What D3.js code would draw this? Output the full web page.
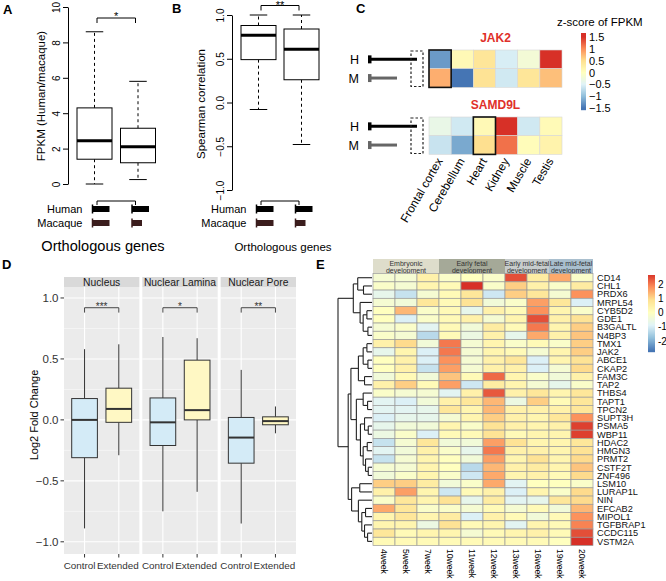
<!DOCTYPE html>
<html><head><meta charset="utf-8">
<script src="https://cdn.jsdelivr.net/npm/d3@7"></script>
<style>body{margin:0;background:#fff}svg text{font-family:"Liberation Sans",Arial,sans-serif}</style>
</head><body><svg id="c" width="666" height="581"></svg>
<script>
// ---------------- DATA ----------------
// Panel A: FPKM ratio boxplots [low whisker, Q1, median, Q3, high whisker]
const aGenes = ["g1", "g2"];
const aStats = [[0, 1.4, 2.45, 4.3, 8.6], [0.25, 1.2, 2.1, 3.15, 5.8]];
const aTicks = [0, 2, 4, 6, 8, 10];
const aSig = "*";
// Panel B: Spearman correlation boxplots
const bStats = [[-0.08, 0.49, 0.77, 0.88, 1.0], [-0.48, 0.26, 0.61, 0.84, 1.0]];
const bTicks = [-1, -0.5, 0, 0.5, 1];
const bSig = "**";
// gene models under A/B (relative lengths)
const species = ["Human", "Macaque"];
const humanLen = [17, 17];
const macaqueLen = [17, 10];

// Panel C
const tissues = ["Frontal cortex", "Cerebellum", "Heart", "Kidney", "Muscle", "Testis"];
const cGenes = ["JAK2", "SAMD9L"];
const cRows = ["H", "M"];
const jak2Z = [[-1.25, 0.1, 0.4, -0.55, -0.2, 1.5], [0.8, -1.5, 0.45, -0.6, 0.4, 0.7]];
const samd9lZ = [[-0.35, -0.6, 0.1, 1.5, -0.6, 0.08], [-0.65, -1.15, 0.5, 1.15, 0.05, 0.2]];
const cHighlight = [0, 2];
const cLegendTicks = [1.5, 1, 0.5, 0, -0.5, -1, -1.5];

// Panel D
const dFacets = ["Nucleus", "Nuclear Lamina", "Nuclear Pore"];
const dGroups = ["Control", "Extended"];
const dStats = [
  [[-0.89, -0.31, 0.0, 0.175, 0.58], [-0.29, -0.02, 0.09, 0.26, 0.62]],
  [[-0.75, -0.21, -0.02, 0.18, 0.68], [-0.59, 0.0, 0.08, 0.49, 0.67]],
  [[-0.85, -0.355, -0.145, 0.02, 0.41], [-0.11, -0.04, -0.01, 0.025, 0.11]]
];
const dSig = ["***", "*", "**"];
const dTicks = [-1, -0.5, 0, 0.5, 1];

// Panel E
const weeks = ["4week","5week","7week","10week","11week","12week","13week","16week","19week","20week"];
const stages = ["Embryonic|development","Early fetal|development","Early mid-fetal|development","Late mid-fetal|development"];
const stageWeeks = [["4week","7week"],["10week","12week"],["13week","16week"],["19week","20week"]];
const stageColors = ["#deddcb","#a5a998","#c7cccc","#a9bfce"];
const eGenes = ["CD14","CHL1","PRDX6","MRPL54","CYB5D2","GDE1","B3GALTL","N4BP3","TMX1","JAK2","ABCE1","CKAP2","FAM3C","TAP2","THBS4","TAPT1","TPCN2","SUPT3H","PSMA5","WBP11","HDAC2","HMGN3","PRMT2","CSTF2T","ZNF496","LSM10","LURAP1L","NIN","EFCAB2","MIPOL1","TGFBRAP1","CCDC115","VSTM2A"];
const eValues = [
  [-0.3,-0.3,0.4,-0.15,0,-0.15,2.4,0.55,1.5,-0.15],
  [-0.15,-0.3,0.3,0.15,2.7,-0.15,1.1,0.4,-0.15,0.55],
  [-0.7,-1.2,-0.3,0.15,0.7,-1.1,1.1,0.7,-0.3,1.75],
  [-0.3,-0.4,0.7,0.15,0.8,-0.4,-0.15,1.6,0.7,-0.95],
  [0,1.35,-0.15,0.15,-0.7,0.4,0.15,1.75,0.3,-0.15],
  [0,-0.95,-0.15,0.15,0.4,-0.3,0.3,2.4,0.4,0.8],
  [-0.3,-0.15,-0.8,0.15,-0.4,0.55,0.15,2.0,0.3,1.1],
  [-0.15,-0.3,-1.35,0.15,-0.55,0.4,-0.7,1.5,0.4,1.2],
  [0.4,0.95,-0.4,2.0,-0.3,0.3,-0.15,0.15,-0.15,1.1],
  [-0.7,0.3,-0.95,2.0,-0.3,0.3,0.15,-0.3,0.3,1.1],
  [0,0.4,-0.95,1.75,-0.3,0.4,0.7,-0.95,0.3,0.8],
  [0,0.4,-1.2,1.6,-0.3,0.4,0.4,-0.95,-0.3,0.95],
  [-0.4,0.15,-0.4,1.2,0.15,2.15,0.3,-0.15,-0.4,0.4],
  [0.4,1.1,0.15,1.6,-1.1,0.55,0.3,-0.3,-0.7,-0.15],
  [-0.15,-0.3,-0.3,-0.8,0.4,2.3,0.4,0.7,0.3,0.7],
  [-0.8,-0.95,-0.4,0.4,0.7,1.35,-0.55,1.1,0.15,0.7],
  [-0.8,-0.8,-0.7,0.7,0.3,1.35,0.4,0.4,0.4,0.7],
  [-0.95,-0.7,-0.7,-0.3,0.3,1.1,0.4,0.3,0.7,1.75],
  [-0.7,-0.4,-0.4,0.3,-0.15,0.8,0.4,0.3,0.4,2.55],
  [-0.55,-0.15,-0.95,0.15,0.15,0.8,0.15,0.3,0.3,2.55],
  [-1.2,-0.3,0.7,-0.4,-0.4,1.6,0.8,0.3,0.3,0.7],
  [-0.8,-0.4,0.4,-0.15,-0.7,2.0,0.4,0.4,0.3,0.8],
  [-1.2,-0.3,0.3,0,-0.4,1.6,0.3,0.8,0.3,0.95],
  [-0.3,-0.3,0.3,0,-1.35,1.35,0.4,0.55,0.3,1.2],
  [-0.4,-0.15,0.3,-0.15,-1.1,1.5,0.3,0.4,0.15,0.95],
  [1.1,1.1,0.55,-0.4,-0.15,1.5,-0.8,0,0,-0.15],
  [0.4,1.6,0.3,-1.1,0.15,0.4,-0.95,0.3,-0.15,0.95],
  [-0.15,0.7,0.3,0.8,-0.7,0.55,-0.8,-0.7,0.7,0.95],
  [1.5,0.7,-0.15,-0.15,-0.3,0.15,-0.3,0.15,-0.4,1.35],
  [0.3,0.7,0.3,0.55,-0.95,0.4,0.15,-0.4,0.15,1.75],
  [0.3,0.3,-0.55,0.8,0.15,0.3,-0.8,0.3,0.15,1.9],
  [0.7,0.15,0.3,0.3,-0.3,0.15,0.3,0.4,0.15,2.4],
  [0.15,0.15,0.15,0.15,0.15,0.15,0.15,0.15,0,3.0]
];
const eLegendTicks = [2, 1, 0, -1, -2];
// row dendrogram (merge heights)
const dendro = {h:10, c:[
  {h:5.5, c:[
    {h:4.2, c:["CD14", {h:2.5, c:["CHL1","PRDX6"]}]},
    {h:3.5, c:["MRPL54", {h:2.6, c:[{h:1.5, c:["CYB5D2","GDE1"]}, {h:1.2, c:["B3GALTL","N4BP3"]}]}]}
  ]},
  {h:7, c:[
    {h:6.2, c:[
      {h:4, c:[{h:2.6, c:[{h:1.5, c:["TMX1","JAK2"]}, {h:1.2, c:["ABCE1","CKAP2"]}]}, {h:2.2, c:["FAM3C","TAP2"]}]},
      {h:4.6, c:[
        {h:2.6, c:["THBS4", {h:1.3, c:["TAPT1","TPCN2"]}]},
        {h:3.4, c:[
          {h:2.2, c:["SUPT3H", {h:1.1, c:["PSMA5","WBP11"]}]},
          {h:2.6, c:[{h:1.4, c:["HDAC2","HMGN3"]}, {h:1.9, c:["PRMT2", {h:1.1, c:["CSTF2T","ZNF496"]}]}]}
        ]}
      ]}
    ]},
    {h:6, c:[
      {h:3.6, c:["LSM10","LURAP1L"]},
      {h:4, c:["NIN", {h:3, c:[{h:1.9, c:["EFCAB2","MIPOL1"]}, {h:2.2, c:["TGFBRAP1", {h:1.3, c:["CCDC115","VSTM2A"]}]}]}]}
    ]}
  ]}
]};

// ---------------- DRAWING ----------------
const svg = d3.select("#c");
svg.append("rect").attr("width", 666).attr("height", 581).attr("fill", "#fff");
const rdylbu7 = ["#4575B4","#91BFDB","#E0F3F8","#FFFFBF","#FEE090","#FC8D59","#D73027"];

function txt(g, x, y, s, o = {}) {
  const t = g.append("text").attr("x", x).attr("y", y).text(s)
    .attr("font-size", o.size || 11).attr("fill", o.fill || "#000")
    .attr("text-anchor", o.anchor || "start");
  if (o.weight) t.attr("font-weight", o.weight);
  if (o.transform) t.attr("transform", o.transform);
  return t;
}
function line(g, x1, y1, x2, y2, o = {}) {
  const l = g.append("line").attr("x1", x1).attr("y1", y1).attr("x2", x2).attr("y2", y2)
    .attr("stroke", o.stroke || "#000").attr("stroke-width", o.w || 1);
  if (o.dash) l.attr("stroke-dasharray", o.dash);
  return l;
}

// panel labels
txt(svg, 3, 14, "A", {size: 13, weight: "bold"});
txt(svg, 172, 13, "B", {size: 13, weight: "bold"});
txt(svg, 356, 13, "C", {size: 13, weight: "bold"});
txt(svg, 2, 269, "D", {size: 13, weight: "bold"});
txt(svg, 316, 269, "E", {size: 13, weight: "bold"});

// ---- R-style boxplot panels (A, B) ----
function rPanel(opt) {
  const g = svg.append("g");
  const y = d3.scaleLinear(opt.domain, opt.range);
  const x = d3.scalePoint(aGenes, opt.xr);
  const ax = g.append("g").attr("transform", `translate(${opt.axisX},0)`)
    .call(d3.axisLeft(y).tickValues(opt.ticks).tickSize(5).tickSizeOuter(0).tickFormat(opt.fmt));
  ax.attr("font-family", null);
  ax.select(".domain").attr("stroke", "#000");
  ax.selectAll(".tick line").attr("stroke", "#000");
  ax.selectAll(".tick text").attr("x", null).attr("dy", null).attr("fill", "#000")
    .attr("font-size", 10).attr("text-anchor", "middle")
    .attr("transform", "translate(-8,0) rotate(-90)");
  txt(g, 0, 0, opt.ylabel, {size: 11.5, anchor: "middle", transform: `translate(${opt.ylabX},${opt.ylabY}) rotate(-90)`});
  const bw = 35;
  opt.stats.forEach((s, i) => {
    const cx = x(aGenes[i]);
    line(g, cx, y(s[3]), cx, y(s[4]), {dash: "3,3"});
    line(g, cx, y(s[1]), cx, y(s[0]), {dash: "3,3"});
    line(g, cx - bw / 4, y(s[4]), cx + bw / 4, y(s[4]));
    line(g, cx - bw / 4, y(s[0]), cx + bw / 4, y(s[0]));
    g.append("rect").attr("x", cx - bw / 2).attr("y", y(s[3])).attr("width", bw)
      .attr("height", y(s[1]) - y(s[3])).attr("fill", "#fff").attr("stroke", "#000");
    line(g, cx - bw / 2, y(s[2]), cx + bw / 2, y(s[2]), {w: 3});
  });
  // significance bracket
  const x1 = x(aGenes[0]) + 2.5, x2 = x(aGenes[1]) - 2.5;
  g.append("path").attr("d", `M${x1},${opt.sigY + 5}V${opt.sigY}H${x2}V${opt.sigY + 5}`)
    .attr("fill", "none").attr("stroke", "#000");
  txt(g, (x1 + x2) / 2, opt.sigY + opt.sigDy, opt.sig, {size: 11, anchor: "middle"});
  // gene model bracket
  g.append("path").attr("d", `M${x1},205V201H${x2}V205`).attr("fill", "none").attr("stroke", "#000");
  const starts = [x(aGenes[0]) - 2, x(aGenes[1]) - 6];
  species.forEach((sp, j) => {
    const yy = 209 + j * 14;
    txt(g, starts[0] - 10, yy + 4, sp, {size: 11, anchor: "end"});
    const lens = j === 0 ? humanLen : macaqueLen;
    const col = j === 0 ? "#000" : "#3b1d1d";
    starts.forEach((sx, i) => {
      line(g, sx, yy - 4.5, sx, yy + 4.5, {stroke: col, w: 1.5});
      g.append("rect").attr("x", sx).attr("y", yy - 3).attr("width", lens[i]).attr("height", 6).attr("fill", col);
    });
  });
  txt(g, opt.orthoX, 251, "Orthologous genes", {size: opt.orthoSize, anchor: "middle"});
}
rPanel({domain: [0, 10], range: [184, 7], xr: [94.5, 138], axisX: 68, ticks: aTicks,
  fmt: d3.format("d"), stats: aStats, ylabel: "FPKM (Human/macaque)", ylabX: 45, ylabY: 96,
  sig: aSig, sigY: 18, sigDy: 1.5, orthoX: 103, orthoSize: 14.6});
rPanel({domain: [-1, 1], range: [190, 15], xr: [258.5, 301.5], axisX: 232, ticks: bTicks,
  fmt: d3.format(".1f"), stats: bStats, ylabel: "Spearman correlation", ylabX: 205, ylabY: 104,
  sig: bSig, sigY: 5.5, sigDy: 3, orthoX: 283, orthoSize: 11.5});

// ---- Panel C ----
(function () {
  const g = svg.append("g");
  const color = d3.scaleLinear().domain([-1.5, -1, -0.5, 0, 0.5, 1, 1.5]).range(rdylbu7).clamp(true);
  const x = d3.scaleBand(tissues, [429, 562]);
  const tops = [50, 117];
  const yr = d3.scaleBand(cRows, [0, 37.4]);
  [jak2Z, samd9lZ].forEach((mat, k) => {
    const y0 = tops[k];
    txt(g, (429 + 562) / 2, y0 - 8, cGenes[k], {size: 12, weight: "bold", anchor: "middle", fill: "#e0302a"});
    mat.forEach((row, r) => row.forEach((v, c) => {
      g.append("rect").attr("x", x(tissues[c])).attr("y", y0 + yr(cRows[r]))
        .attr("width", x.bandwidth()).attr("height", yr.bandwidth())
        .attr("fill", color(v)).attr("stroke", "#d8d8d8").attr("stroke-width", 0.6);
    }));
    const hc = cHighlight[k];
    g.append("rect").attr("x", x(tissues[hc])).attr("y", y0).attr("width", x.bandwidth())
      .attr("height", 37.4).attr("fill", "none").attr("stroke", "#111").attr("stroke-width", 1.6);
    // gene models
    cRows.forEach((r, j) => {
      const yy = y0 + yr(r) + yr.bandwidth() / 2;
      txt(g, 359, yy + 4.5, r, {size: 12.5, anchor: "end"});
      const col = j === 0 ? "#000" : "#666";
      const end = j === 0 ? 417 : 397;
      g.append("rect").attr("x", 368).attr("y", yy - 4).attr("width", 3.5).attr("height", 8).attr("fill", col);
      line(g, 370, yy, end, yy, {stroke: col, w: 3});
    });
    g.append("rect").attr("x", 411).attr("y", y0 + 1).attr("width", 12).attr("height", 35.5)
      .attr("fill", "none").attr("stroke", "#222").attr("stroke-width", 1.2).attr("stroke-dasharray", "2.5,2");
  });
  tissues.forEach(t => {
    const cx = x(t) + x.bandwidth() / 2 + 3;
    txt(g, 0, 0, t, {size: 11.8, anchor: "end", transform: `translate(${cx},161) rotate(-60)`});
  });
  // legend
  txt(g, 557, 26, "z-score of FPKM", {size: 11.5});
  const ly = d3.scaleLinear([-1.5, 1.5], [108, 37]);
  for (let yy = 33; yy < 110; yy++) {
    g.append("rect").attr("x", 581).attr("y", yy).attr("width", 5).attr("height", 1.2)
      .attr("fill", color(ly.invert(yy + 0.5)));
  }
  cLegendTicks.forEach(v => {
    txt(g, 589, ly(v) + 4, (v < 0 ? "\u2212" : "") + Math.abs(v), {size: 11});
  });
})();

// ---- Panel D (ggplot facets) ----
(function () {
  const g = svg.append("g");
  const fx = d3.scaleBand(dFacets, [64, 296]).paddingInner(0.038);
  const bw = fx.bandwidth();
  const xin = d3.scalePoint(dGroups, [0, bw]).padding(0.6);
  const step = xin.step();
  const y = d3.scaleLinear([-1.1, 1.09], [554, 287]);
  const fills = ["#d4ebf7", "#fff8c4"];
  const labShift = [-5, -1];
  dFacets.forEach((f, k) => {
    const x0 = fx(f);
    const p = g.append("g").attr("transform", `translate(${x0},0)`);
    p.append("rect").attr("x", 0).attr("y", 287).attr("width", bw).attr("height", 267).attr("fill", "#ebebeb");
    [-0.75, -0.25, 0.25, 0.75].forEach(v => line(p, 0, y(v), bw, y(v), {stroke: "#fff", w: 0.5}));
    dTicks.forEach(v => line(p, 0, y(v), bw, y(v), {stroke: "#fff", w: 1.1}));
    dGroups.forEach(gr => line(p, xin(gr), 287, xin(gr), 554, {stroke: "#fff", w: 1.1}));
    // strip
    p.append("rect").attr("x", 0).attr("y", 277).attr("width", bw).attr("height", 10).attr("fill", "#d9d9d9");
    txt(p, bw / 2, 285.5, f, {size: 10.3, anchor: "middle", fill: "#1a1a1a"});
    // boxes
    dStats[k].forEach((s, i) => {
      const cx = xin(dGroups[i]), w = step * 0.75;
      line(p, cx, y(s[3]), cx, y(s[4]), {stroke: "#333", w: 1});
      line(p, cx, y(s[1]), cx, y(s[0]), {stroke: "#333", w: 1});
      p.append("rect").attr("x", cx - w / 2).attr("y", y(s[3])).attr("width", w)
        .attr("height", y(s[1]) - y(s[3])).attr("fill", fills[i]).attr("stroke", "#333").attr("stroke-width", 1);
      line(p, cx - w / 2, y(s[2]), cx + w / 2, y(s[2]), {stroke: "#333", w: 2});
      line(p, cx, 554, cx, 557.5, {stroke: "#333", w: 1});
      txt(p, cx + labShift[i], 568.5, dGroups[i], {size: 9.9, anchor: "middle", fill: "#333"});
    });
    const a = xin(dGroups[0]), b = xin(dGroups[1]);
    p.append("path").attr("d", `M${a},${y(0.88)}V${y(0.92)}H${b}V${y(0.88)}`)
      .attr("fill", "none").attr("stroke", "#333").attr("stroke-width", 0.9);
    txt(p, (a + b) / 2, y(0.92) + 2.5, dSig[k], {size: 10, anchor: "middle", fill: "#333"});
  });
  dTicks.forEach(v => {
    line(g, 60.5, y(v), 64, y(v), {stroke: "#333"});
    txt(g, 58.5, y(v) + 4, d3.format(".1f")(v), {size: 11.5, anchor: "end", fill: "#333"});
  });
  txt(g, 0, 0, "Log2 Fold Change", {size: 11, anchor: "middle", transform: "translate(38,415) rotate(-90)"});
})();

// ---- Panel E (heatmap) ----
(function () {
  const g = svg.append("g");
  const color = d3.scaleLinear().domain([-2.7, -1.8, -0.9, 0, 0.9, 1.8, 2.7]).range(rdylbu7).clamp(true);
  const x = d3.scaleBand(weeks, [373, 593]);
  const y = d3.scaleBand(eGenes, [273.6, 545.5]);
  // header annotation
  stages.forEach((s, i) => {
    const xa = x(stageWeeks[i][0]), xb = x(stageWeeks[i][1]) + x.bandwidth();
    g.append("rect").attr("x", xa).attr("y", 259).attr("width", xb - xa).attr("height", 14.6).attr("fill", stageColors[i]);
    const [l1, l2] = s.split("|");
    txt(g, 0, 0, l1, {size: 7.8, anchor: "middle", fill: "#333", transform: `translate(${(xa + xb) / 2},265.8) scale(0.9,1)`});
    txt(g, 0, 0, l2, {size: 7.8, anchor: "middle", fill: "#333", transform: `translate(${(xa + xb) / 2},273) scale(0.9,1)`});
  });
  eValues.forEach((row, r) => row.forEach((v, c) => {
    g.append("rect").attr("x", x(weeks[c])).attr("y", y(eGenes[r]))
      .attr("width", x.bandwidth()).attr("height", y.bandwidth())
      .attr("fill", color(v)).attr("stroke", "#9a9a9a").attr("stroke-width", 0.7);
  }));
  eGenes.forEach(gn => txt(g, 597, y(gn) + y.bandwidth() / 2 + 3.3, gn, {size: 9.2, fill: "#111"}));
  weeks.forEach(w => txt(g, 0, 0, w, {size: 8.6, transform: `translate(${x(w) + x.bandwidth() / 2 - 3},549) rotate(90)`}));
  // dendrogram
  const root = d3.hierarchy(dendro, d => (typeof d === "string" ? null : d.c));
  const hx = d3.scaleLinear([0, 10], [372, 338]);
  root.eachAfter(n => {
    if (!n.children) { n.py = y(n.data) + y.bandwidth() / 2; n.px = hx(0); }
    else { n.py = d3.mean(n.children, c => c.py); n.px = hx(n.data.h); }
  });
  root.each(n => {
    if (n.children) {
      const ys = n.children.map(c => c.py);
      line(g, n.px, d3.min(ys), n.px, d3.max(ys), {stroke: "#222", w: 1.1});
      n.children.forEach(c => line(g, n.px, c.py, c.px, c.py, {stroke: "#222", w: 1.1}));
    }
  });
  // legend
  const ly = d3.scaleLinear([-2, 2], [341, 284]);
  for (let yy = 275; yy < 352; yy++) {
    g.append("rect").attr("x", 648).attr("y", yy).attr("width", 7).attr("height", 1.2)
      .attr("fill", color(ly.invert(yy + 0.5)));
  }
  eLegendTicks.forEach(v => txt(g, 658, ly(v) + 3.5, String(v), {size: 10}));
})();
</script></body></html>
